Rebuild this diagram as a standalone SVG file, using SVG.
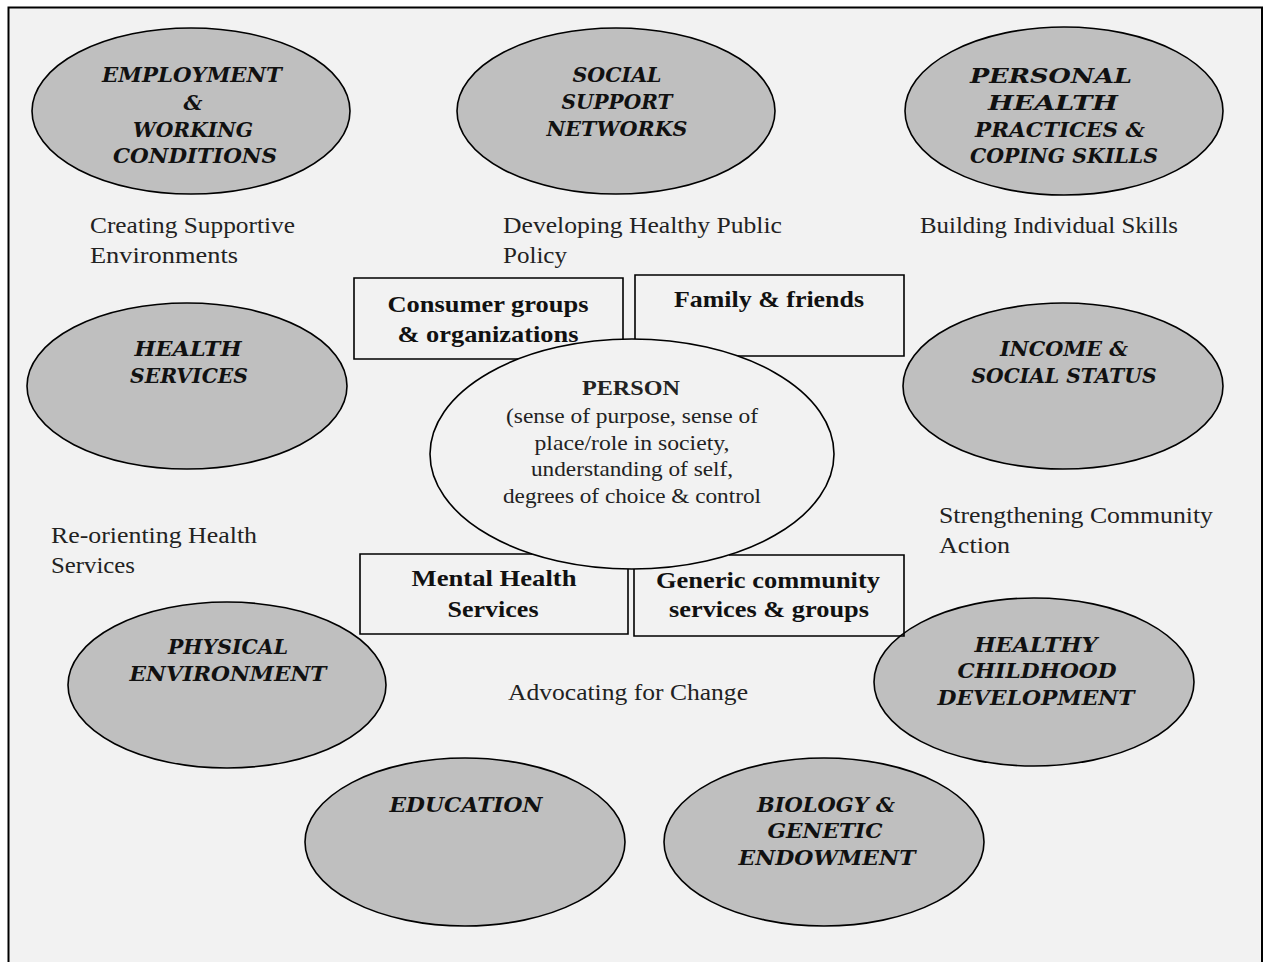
<svg xmlns="http://www.w3.org/2000/svg" width="1265" height="962" viewBox="0 0 1265 962">
  <style>
    .frame { fill: #f2f2f2; stroke: #000; stroke-width: 2; }
    .det { fill: #bfbfbf; stroke: #000; stroke-width: 1.6; }
    .person { fill: #f2f2f2; stroke: #000; stroke-width: 1.6; }
    .box { fill: none; stroke: #000; stroke-width: 1.6; }
    .dt { font-family: "DejaVu Serif", "Liberation Serif", serif; font-weight: bold; font-style: italic; font-size: 21px; fill: #111; text-anchor: middle; }
    .bt { font-family: "Liberation Serif", "DejaVu Serif", serif; font-weight: bold; font-size: 23px; fill: #111; text-anchor: middle; }
    .pt { font-family: "Liberation Serif", "DejaVu Serif", serif; font-size: 22px; fill: #222; text-anchor: middle; }
    .lbl { font-family: "Liberation Serif", "DejaVu Serif", serif; font-size: 23px; fill: #222; }
  </style>

  <rect width="1265" height="962" fill="#ffffff"/>
  <rect class="frame" x="8.5" y="7.5" width="1253.5" height="970"/>

  <!-- determinants of health -->
  <g id="employment">
    <ellipse class="det" cx="191" cy="111" rx="159" ry="83"/>
    <text class="dt" x="192" y="82" textLength="180" lengthAdjust="spacingAndGlyphs">EMPLOYMENT</text>
    <text class="dt" x="193" y="110">&amp;</text>
    <text class="dt" x="193" y="137" textLength="120" lengthAdjust="spacingAndGlyphs">WORKING</text>
    <text class="dt" x="195" y="163" textLength="164" lengthAdjust="spacingAndGlyphs">CONDITIONS</text>
  </g>

  <g id="social-support">
    <ellipse class="det" cx="616" cy="111" rx="159" ry="83"/>
    <text class="dt" x="617" y="82" textLength="89" lengthAdjust="spacingAndGlyphs">SOCIAL</text>
    <text class="dt" x="617" y="109" textLength="111" lengthAdjust="spacingAndGlyphs">SUPPORT</text>
    <text class="dt" x="617" y="136" textLength="141" lengthAdjust="spacingAndGlyphs">NETWORKS</text>
  </g>

  <g id="personal-health">
    <ellipse class="det" cx="1064" cy="111" rx="159" ry="84"/>
    <text class="dt" x="1051" y="83" textLength="162" lengthAdjust="spacingAndGlyphs">PERSONAL</text>
    <text class="dt" x="1053" y="110" textLength="130" lengthAdjust="spacingAndGlyphs">HEALTH</text>
    <text class="dt" x="1060" y="137" textLength="170" lengthAdjust="spacingAndGlyphs">PRACTICES &amp;</text>
    <text class="dt" x="1064" y="163" textLength="188" lengthAdjust="spacingAndGlyphs">COPING SKILLS</text>
  </g>

  <g id="health-services">
    <ellipse class="det" cx="187" cy="386" rx="160" ry="83"/>
    <text class="dt" x="188" y="356" textLength="107" lengthAdjust="spacingAndGlyphs">HEALTH</text>
    <text class="dt" x="189" y="383" textLength="118" lengthAdjust="spacingAndGlyphs">SERVICES</text>
  </g>

  <g id="income">
    <ellipse class="det" cx="1063" cy="386" rx="160" ry="83"/>
    <text class="dt" x="1064" y="356" textLength="128" lengthAdjust="spacingAndGlyphs">INCOME &amp;</text>
    <text class="dt" x="1064" y="383" textLength="185" lengthAdjust="spacingAndGlyphs">SOCIAL STATUS</text>
  </g>

  <g id="physical-environment">
    <ellipse class="det" cx="227" cy="685" rx="159" ry="83"/>
    <text class="dt" x="228" y="654" textLength="120" lengthAdjust="spacingAndGlyphs">PHYSICAL</text>
    <text class="dt" x="228" y="681" textLength="197" lengthAdjust="spacingAndGlyphs">ENVIRONMENT</text>
  </g>

  <g id="childhood">
    <ellipse class="det" cx="1034" cy="682" rx="160" ry="84"/>
    <text class="dt" x="1036" y="652" textLength="123" lengthAdjust="spacingAndGlyphs">HEALTHY</text>
    <text class="dt" x="1037" y="678" textLength="159" lengthAdjust="spacingAndGlyphs">CHILDHOOD</text>
    <text class="dt" x="1036" y="705" textLength="197" lengthAdjust="spacingAndGlyphs">DEVELOPMENT</text>
  </g>

  <g id="education">
    <ellipse class="det" cx="465" cy="842" rx="160" ry="84"/>
    <text class="dt" x="466" y="812" textLength="153" lengthAdjust="spacingAndGlyphs">EDUCATION</text>
  </g>

  <g id="biology">
    <ellipse class="det" cx="824" cy="842" rx="160" ry="84"/>
    <text class="dt" x="826" y="812" textLength="138" lengthAdjust="spacingAndGlyphs">BIOLOGY &amp;</text>
    <text class="dt" x="825" y="838" textLength="115" lengthAdjust="spacingAndGlyphs">GENETIC</text>
    <text class="dt" x="827" y="865" textLength="177" lengthAdjust="spacingAndGlyphs">ENDOWMENT</text>
  </g>

  <!-- centre: the person -->
  <g id="person">
    <ellipse class="person" cx="632" cy="454" rx="202" ry="115"/>
    <text class="pt" x="631" y="395" font-weight="bold" textLength="98" lengthAdjust="spacingAndGlyphs">PERSON</text>
    <text class="pt" x="632" y="423" textLength="252" lengthAdjust="spacingAndGlyphs">(sense of purpose, sense of</text>
    <text class="pt" x="632" y="450" textLength="195" lengthAdjust="spacingAndGlyphs">place/role in society,</text>
    <text class="pt" x="632" y="476" textLength="202" lengthAdjust="spacingAndGlyphs">understanding of self,</text>
    <text class="pt" x="632" y="503" textLength="258" lengthAdjust="spacingAndGlyphs">degrees of choice &amp; control</text>
  </g>

  <!-- supports around the person (edges stop where the centre ellipse overlaps) -->
  <g id="consumer-groups">
    <path class="box" d="M518,359 H354 V278 H623 V339"/>
    <text class="bt" x="488" y="312" textLength="201" lengthAdjust="spacingAndGlyphs">Consumer groups</text>
    <text class="bt" x="488" y="342" textLength="181" lengthAdjust="spacingAndGlyphs">&amp; organizations</text>
  </g>

  <g id="family-friends">
    <path class="box" d="M635,339 V275 H904 V356 H738"/>
    <text class="bt" x="769" y="307" textLength="190" lengthAdjust="spacingAndGlyphs">Family &amp; friends</text>
  </g>

  <g id="mental-health">
    <path class="box" d="M532,554 H360 V634 H628 V569"/>
    <text class="bt" x="494" y="586" textLength="165" lengthAdjust="spacingAndGlyphs">Mental Health</text>
    <text class="bt" x="493" y="617" textLength="91" lengthAdjust="spacingAndGlyphs">Services</text>
  </g>

  <g id="community-services">
    <path class="box" d="M634,569 V636 H904 V555 H729"/>
    <text class="bt" x="768" y="588" textLength="224" lengthAdjust="spacingAndGlyphs">Generic community</text>
    <text class="bt" x="769" y="617" textLength="200" lengthAdjust="spacingAndGlyphs">services &amp; groups</text>
  </g>

  <!-- health promotion strategies -->
  <g id="strategies">
    <text class="lbl" x="90" y="233" textLength="205" lengthAdjust="spacingAndGlyphs">Creating Supportive</text>
    <text class="lbl" x="90" y="263" textLength="148" lengthAdjust="spacingAndGlyphs">Environments</text>
    <text class="lbl" x="503" y="233" textLength="279" lengthAdjust="spacingAndGlyphs">Developing Healthy Public</text>
    <text class="lbl" x="503" y="263" textLength="64" lengthAdjust="spacingAndGlyphs">Policy</text>
    <text class="lbl" x="920" y="233" textLength="258" lengthAdjust="spacingAndGlyphs">Building Individual Skills</text>
    <text class="lbl" x="51" y="543" textLength="206" lengthAdjust="spacingAndGlyphs">Re-orienting Health</text>
    <text class="lbl" x="51" y="573" textLength="84" lengthAdjust="spacingAndGlyphs">Services</text>
    <text class="lbl" x="939" y="523" textLength="274" lengthAdjust="spacingAndGlyphs">Strengthening Community</text>
    <text class="lbl" x="939" y="553" textLength="71" lengthAdjust="spacingAndGlyphs">Action</text>
    <text class="lbl" x="508" y="700" textLength="240" lengthAdjust="spacingAndGlyphs">Advocating for Change</text>
  </g>
</svg>
